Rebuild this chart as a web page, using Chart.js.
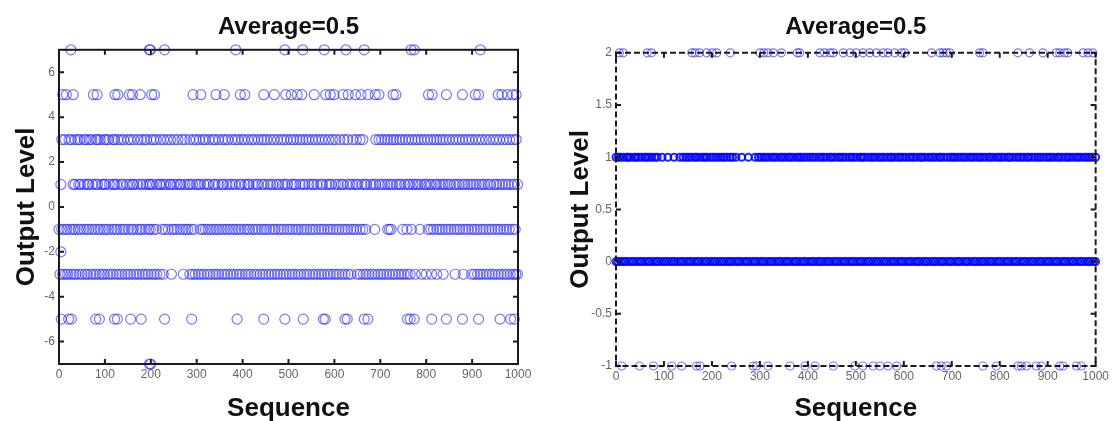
<!DOCTYPE html>
<html>
<head>
<meta charset="utf-8">
<script src="https://cdn.jsdelivr.net/npm/chart.js@4.4.0/dist/chart.umd.min.js"></script>
<style>
  body { margin: 0; background: #fff; }
  canvas { position: absolute; top: 0; }
  #left-chart { left: 0; }
  #right-chart { left: 556px; }
</style>
</head>
<body>
<canvas id="left-chart" width="556" height="421"></canvas>
<canvas id="right-chart" width="556" height="421"></canvas>
<script>
// tick labels
const xTicks = [0, 100, 200, 300, 400, 500, 600, 700, 800, 900, 1000];
const leftYTicks = [-6, -4, -2, 0, 2, 4, 6];
const rightYTicks = [-1, -0.5, 0, 0.5, 1, 1.5, 2];

// left plot: sequence positions read per output level
const leftLevel7 = [26, 197, 199, 230, 385, 492, 531, 578, 625, 665, 767, 774, 918];
const leftLevel5 = [8, 16, 31, 75, 83, 122, 128, 153, 160, 177, 202, 208, 292, 309, 342, 360, 395, 405, 446, 469, 494, 506, 519, 529, 556, 581, 591, 599, 619, 630, 646, 658, 673, 689, 697, 728, 734, 805, 813, 844, 879, 907, 914, 957, 965, 977, 988, 996];
const leftLevel3 = [6, 13, 22, 27, 35, 41, 46, 55, 59, 66, 71, 80, 84, 90, 98, 103, 108, 117, 121, 128, 135, 141, 150, 156, 163, 172, 179, 186, 191, 200, 206, 212, 221, 228, 236, 243, 251, 259, 268, 275, 285, 293, 299, 306, 314, 319, 327, 335, 340, 348, 356, 362, 368, 377, 384, 390, 398, 404, 412, 420, 426, 434, 441, 447, 453, 461, 468, 476, 484, 490, 497, 505, 511, 518, 525, 531, 538, 544, 552, 559, 566, 573, 580, 588, 596, 603, 612, 621, 629, 640, 648, 656, 662, 690, 697, 703, 710, 716, 723, 729, 735, 742, 748, 755, 762, 769, 776, 782, 789, 796, 803, 810, 817, 823, 830, 836, 843, 850, 858, 865, 872, 879, 886, 893, 900, 908, 915, 922, 930, 938, 946, 953, 960, 968, 975, 982, 989, 996];
const leftLevel1 = [4, 31, 35, 43, 47, 55, 62, 65, 73, 80, 84, 93, 98, 101, 110, 118, 121, 126, 135, 139, 148, 154, 160, 163, 171, 178, 183, 190, 196, 199, 204, 213, 219, 222, 228, 233, 241, 244, 250, 257, 263, 266, 274, 281, 285, 291, 299, 304, 308, 316, 323, 327, 336, 340, 347, 355, 358, 366, 372, 378, 384, 393, 397, 405, 411, 414, 423, 430, 434, 442, 447, 455, 461, 466, 474, 479, 487, 492, 498, 507, 512, 516, 525, 531, 536, 544, 551, 555, 562, 570, 574, 583, 589, 593, 602, 608, 615, 619, 628, 634, 640, 647, 651, 660, 666, 670, 679, 685, 690, 698, 703, 710, 716, 722, 727, 735, 741, 745, 753, 760, 764, 771, 777, 782, 788, 796, 800, 806, 811, 819, 823, 830, 836, 841, 848, 853, 861, 866, 872, 879, 884, 891, 897, 903, 909, 916, 922, 927, 935, 940, 948, 953, 960, 966, 973, 979, 986, 992, 999];
const leftLevelM1 = [0, 6, 12, 17, 24, 30, 35, 42, 47, 54, 60, 65, 72, 78, 85, 90, 97, 102, 108, 115, 121, 126, 133, 139, 144, 151, 158, 162, 170, 176, 181, 188, 195, 199, 206, 212, 225, 231, 238, 246, 251, 257, 264, 270, 276, 281, 288, 294, 308, 313, 319, 325, 331, 337, 343, 349, 355, 361, 367, 373, 379, 385, 391, 397, 404, 410, 415, 422, 428, 434, 441, 447, 452, 459, 466, 471, 478, 484, 490, 497, 503, 509, 516, 521, 528, 534, 540, 547, 553, 559, 566, 572, 578, 585, 591, 597, 604, 610, 617, 623, 629, 636, 642, 648, 656, 662, 668, 688, 716, 720, 724, 749, 758, 768, 786, 804, 810, 816, 823, 829, 835, 842, 848, 854, 861, 867, 873, 880, 886, 892, 899, 905, 911, 918, 924, 930, 937, 943, 950, 956, 962, 969, 975, 981, 988, 994];
const leftLevelM2 = [4];
const leftLevelM3 = [2, 8, 14, 19, 26, 32, 37, 44, 50, 57, 62, 69, 75, 81, 88, 94, 99, 106, 112, 118, 125, 131, 137, 144, 150, 156, 163, 169, 175, 182, 188, 194, 201, 207, 213, 220, 227, 245, 271, 285, 291, 297, 304, 310, 316, 323, 329, 336, 342, 348, 355, 361, 367, 374, 380, 387, 393, 399, 406, 412, 418, 425, 431, 438, 444, 450, 457, 463, 470, 476, 482, 489, 495, 502, 508, 514, 521, 527, 534, 540, 546, 553, 559, 566, 572, 578, 585, 591, 598, 604, 610, 617, 623, 630, 636, 650, 656, 663, 669, 675, 682, 688, 695, 701, 707, 714, 720, 727, 733, 740, 746, 752, 759, 765, 776, 790, 800, 812, 823, 837, 863, 881, 899, 905, 912, 918, 924, 931, 937, 944, 950, 957, 963, 970, 976, 983, 989, 995, 999];
const leftLevelM5 = [5, 21, 27, 80, 88, 121, 127, 156, 179, 230, 289, 388, 446, 492, 532, 576, 580, 623, 628, 665, 673, 759, 765, 774, 812, 844, 879, 914, 961, 984, 992];
const leftLevelM7 = [197, 200];

// right plot
const rightLevel2 = [7, 15, 65, 74, 158, 165, 174, 189, 201, 210, 238, 300, 308, 317, 328, 345, 378, 383, 425, 435, 446, 453, 474, 488, 501, 515, 529, 543, 557, 567, 581, 595, 602, 658, 675, 682, 689, 696, 758, 765, 838, 862, 890, 918, 925, 935, 942, 974, 984, 994];
const rightLevel1 = [0, 5, 9, 15, 22, 26, 31, 38, 42, 47, 53, 60, 64, 69, 75, 81, 86, 96, 108, 121, 133, 140, 146, 151, 157, 164, 168, 174, 181, 186, 190, 197, 203, 208, 214, 220, 225, 231, 238, 243, 250, 262, 276, 290, 297, 302, 308, 313, 319, 326, 330, 336, 343, 347, 353, 360, 364, 370, 377, 382, 387, 393, 399, 405, 410, 416, 423, 428, 433, 439, 446, 450, 456, 463, 468, 473, 479, 486, 491, 496, 502, 509, 513, 518, 525, 531, 536, 541, 548, 553, 558, 565, 571, 575, 581, 588, 593, 598, 604, 611, 616, 621, 627, 634, 638, 644, 651, 656, 661, 667, 674, 678, 684, 691, 697, 702, 707, 713, 719, 724, 730, 737, 741, 747, 754, 759, 764, 770, 777, 781, 787, 794, 799, 804, 810, 817, 821, 827, 834, 839, 844, 850, 857, 861, 867, 873, 879, 884, 890, 897, 902, 907, 913, 920, 924, 930, 937, 942, 947, 953, 960, 964, 970, 977, 982, 987, 993, 1000];
const rightLevel0 = [0, 4, 10, 16, 20, 27, 33, 37, 44, 50, 54, 61, 67, 71, 78, 84, 88, 95, 101, 105, 112, 118, 122, 129, 135, 139, 146, 152, 156, 163, 169, 173, 180, 186, 190, 197, 203, 207, 214, 220, 224, 231, 237, 241, 248, 254, 258, 265, 271, 275, 282, 288, 292, 299, 305, 309, 316, 322, 326, 333, 339, 343, 350, 356, 360, 367, 373, 377, 384, 390, 394, 401, 407, 411, 418, 424, 428, 435, 441, 445, 452, 458, 462, 469, 475, 479, 486, 492, 496, 503, 509, 513, 520, 526, 530, 537, 543, 547, 554, 560, 564, 571, 577, 581, 588, 594, 598, 605, 611, 615, 622, 628, 632, 639, 645, 649, 656, 662, 666, 673, 679, 683, 690, 696, 700, 707, 713, 717, 724, 730, 734, 741, 747, 751, 758, 764, 768, 775, 781, 785, 792, 798, 802, 809, 815, 819, 826, 832, 836, 843, 849, 853, 860, 866, 870, 877, 883, 887, 894, 900, 904, 911, 917, 921, 928, 934, 938, 945, 951, 955, 962, 968, 972, 979, 985, 989, 996, 1000];
const rightLevelM1 = [12, 49, 78, 116, 137, 168, 175, 241, 286, 293, 317, 363, 394, 415, 453, 498, 515, 536, 550, 567, 585, 668, 678, 689, 765, 793, 838, 845, 856, 876, 887, 925, 932, 960, 970];

const leftLevels = [[7, leftLevel7], [5, leftLevel5], [3, leftLevel3], [1, leftLevel1], [-1, leftLevelM1], [-2, leftLevelM2], [-3, leftLevelM3], [-5, leftLevelM5], [-7, leftLevelM7]];
const rightLevels = [[2, rightLevel2], [1, rightLevel1], [0, rightLevel0], [-1, rightLevelM1]];
const rightDenseLevels = [1, 0];

const FONT = 'Liberation Sans, Arial, sans-serif';

function makeDatasets(levels, style, denseLevels, denseStyle) {
    return levels.map(([level, xs]) => {
        const s = denseLevels.includes(level) ? denseStyle : style;
        return {
            data: xs.map(x => ({ x: x, y: level })),
            pointStyle: 'circle',
            pointRadius: s.radius,
            pointBorderWidth: s.width,
            pointBorderColor: s.color,
            pointBackgroundColor: 'rgba(0,0,0,0)',
            clip: false
        };
    });
}

// matlab style frame with inward ticks
const frameTicks = {
    id: 'frameTicks',
    afterDraw(chart, args, opts) {
        const { ctx, chartArea: a, scales: { x, y } } = chart;
        ctx.save();
        ctx.strokeStyle = '#1a1a1a';
        ctx.lineWidth = 2;
        if (opts.dash) ctx.setLineDash(opts.dash);
        ctx.strokeRect(a.left, a.top, a.right - a.left, a.bottom - a.top);
        ctx.setLineDash([]);
        ctx.beginPath();
        for (const t of x.ticks) {
            const px = x.getPixelForValue(t.value);
            ctx.moveTo(px, a.bottom); ctx.lineTo(px, a.bottom - 5);
            ctx.moveTo(px, a.top); ctx.lineTo(px, a.top + 5);
        }
        for (const t of y.ticks) {
            const py = y.getPixelForValue(t.value);
            ctx.moveTo(a.left, py); ctx.lineTo(a.left + 5, py);
            ctx.moveTo(a.right, py); ctx.lineTo(a.right - 5, py);
        }
        ctx.stroke();
        ctx.restore();
    }
};

function makeChart(canvas, cfg) {
    return new Chart(canvas, {
        type: 'scatter',
        data: { datasets: cfg.datasets },
        options: {
            responsive: false,
            animation: false,
            devicePixelRatio: 1,
            layout: { padding: { left: 0, right: cfg.padRight, top: 0, bottom: 0 } },
            plugins: {
                legend: { display: false },
                tooltip: { enabled: false },
                title: {
                    display: true,
                    fullSize: false,
                    text: 'Average=0.5',
                    color: '#111',
                    font: { family: FONT, size: 24, weight: 'bold' },
                    padding: cfg.titlePad
                },
                frameTicks: { dash: cfg.dash }
            },
            scales: {
                x: {
                    type: 'linear',
                    min: 0,
                    max: 1000,
                    afterBuildTicks: s => { s.ticks = xTicks.map(v => ({ value: v })); },
                    afterFit: s => { s.height = cfg.xHeight; },
                    grid: { display: false, drawTicks: false },
                    border: { display: false },
                    ticks: { color: '#666', autoSkip: false, maxRotation: 0, padding: 3, font: { family: FONT, size: 12 }, callback: v => String(v) },
                    title: { display: true, text: 'Sequence', color: '#111', font: { family: FONT, size: 26, weight: 'bold' }, padding: { top: 0, bottom: -3 } }
                },
                y: {
                    type: 'linear',
                    min: cfg.yMin,
                    max: cfg.yMax,
                    afterBuildTicks: s => { s.ticks = cfg.yTicks.map(v => ({ value: v })); },
                    afterFit: s => { s.width = cfg.yWidth; },
                    grid: { display: false, drawTicks: false },
                    border: { display: false },
                    ticks: { color: '#666', autoSkip: false, padding: 4, font: { family: FONT, size: 12 }, callback: v => String(v) },
                    title: { display: true, text: 'Output Level', color: '#111', font: { family: FONT, size: 26, weight: 'bold' }, padding: { top: cfg.yTitlePad, bottom: 0 } }
                }
            }
        },
        plugins: [frameTicks]
    });
}

makeChart(document.getElementById('left-chart'), {
    datasets: makeDatasets(leftLevels, { radius: 5, width: 1.2, color: 'rgba(30,30,255,0.6)' }, [], null),
    yMin: -7, yMax: 7, yTicks: leftYTicks,
    yWidth: 59, xHeight: 57, padRight: 38,
    titlePad: { top: 13, bottom: 8 },
    yTitlePad: 11,
    dash: null
});

makeChart(document.getElementById('right-chart'), {
    datasets: makeDatasets(rightLevels, { radius: 4, width: 1.2, color: 'rgba(30,30,255,0.6)' }, rightDenseLevels, { radius: 3.5, width: 2, color: 'rgba(0,0,255,0.85)' }),
    yMin: -1, yMax: 2, yTicks: rightYTicks,
    yWidth: 60, xHeight: 55, padRight: 16,
    titlePad: { top: 13, bottom: 11 },
    yTitlePad: 9,
    dash: [6, 3]
});
</script>
</body>
</html>
